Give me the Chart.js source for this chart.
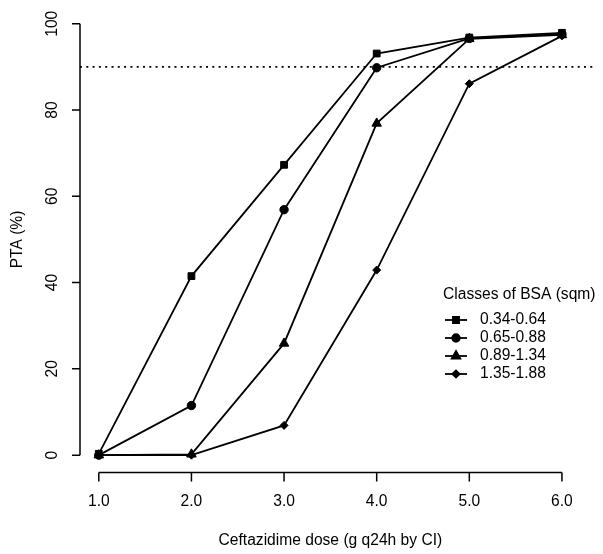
<!DOCTYPE html>
<html>
<head>
<meta charset="utf-8">
<script src="https://cdn.jsdelivr.net/npm/chart.js@4"></script>
<style>
  html, body { margin: 0; padding: 0; background: #fff; }
  canvas { display: block; }
</style>
</head>
<body>
<canvas id="pta-chart" width="603" height="554"></canvas>
<script>
// PTA by ceftazidime dose, one series per BSA class
const doses = [1.0, 2.0, 3.0, 4.0, 5.0, 6.0];
const xTicks = [1.0, 2.0, 3.0, 4.0, 5.0, 6.0];
const yTicks = [0, 20, 40, 60, 80, 100];
const target = 90;

const bsaLabels = ['0.34-0.64', '0.65-0.88', '0.89-1.34', '1.35-1.88'];
const pta034 = [0.3, 41.5, 67.3, 93.1, 96.8, 97.9];
const pta065 = [0.0, 11.5, 56.9, 89.8, 96.6, 97.6];
const pta089 = [0.0, 0.2, 25.9, 76.9, 96.5, 97.4];
const pta135 = [0.0, 0.0, 6.9, 42.9, 86.1, 97.2];

const FONT = '15.6px "Liberation Sans", Arial, sans-serif';

const markers = [
    { style: 'rect', radius: 4.8 },
    { style: 'circle', radius: 4.2 },
    { style: 'triangle', radius: 5.5 },
    { style: 'rectRot', radius: 4 }
];

function pts(values) {
    return doses.map((d, i) => ({ x: d, y: values[i] }));
}

const seriesData = [pta034, pta065, pta089, pta135];

const datasets = seriesData.map((vals, i) => ({
    label: bsaLabels[i],
    data: pts(vals),
    borderColor: '#000',
    backgroundColor: '#000',
    borderWidth: 1.8,
    pointStyle: markers[i].style,
    pointRadius: markers[i].radius,
    pointBorderWidth: 1,
    pointBackgroundColor: '#000',
    pointBorderColor: '#000',
    tension: 0
}));

// dotted target line, spans the whole plot region
datasets.push({
    label: 'target',
    data: [{ x: 0.797, y: target }, { x: 6.373, y: target }],
    borderColor: '#000',
    borderWidth: 1.7,
    borderDash: [2, 4.3],
    pointRadius: 0
});

// R-style axes, titles and legend
const baseAxes = {
    id: 'baseAxes',
    afterDraw(chart) {
        const ctx = chart.ctx;
        const xs = chart.scales.x;
        const ys = chart.scales.y;
        const axisX = chart.chartArea.left;
        const axisY = chart.chartArea.bottom;
        ctx.save();
        ctx.strokeStyle = '#000';
        ctx.fillStyle = '#000';
        ctx.lineWidth = 1.5;
        ctx.font = FONT;

        // y axis
        ctx.beginPath();
        ctx.moveTo(axisX, ys.getPixelForValue(yTicks[0]));
        ctx.lineTo(axisX, ys.getPixelForValue(yTicks[yTicks.length - 1]));
        yTicks.forEach(t => {
            const py = ys.getPixelForValue(t);
            ctx.moveTo(axisX, py);
            ctx.lineTo(axisX - 8, py);
        });
        ctx.stroke();
        ctx.textAlign = 'center';
        ctx.textBaseline = 'middle';
        yTicks.forEach(t => {
            ctx.save();
            ctx.translate(53, ys.getPixelForValue(t));
            ctx.rotate(-Math.PI / 2);
            ctx.fillText(String(t), 0, 0);
            ctx.restore();
        });

        // x axis
        ctx.beginPath();
        ctx.moveTo(xs.getPixelForValue(xTicks[0]), axisY);
        ctx.lineTo(xs.getPixelForValue(xTicks[xTicks.length - 1]), axisY);
        xTicks.forEach(t => {
            const px = xs.getPixelForValue(t);
            ctx.moveTo(px, axisY);
            ctx.lineTo(px, axisY + 9);
        });
        ctx.stroke();
        xTicks.forEach(t => {
            ctx.fillText(t.toFixed(1), xs.getPixelForValue(t), 502);
        });

        // titles
        ctx.fillText('Ceftazidime dose (g q24h by CI)', (xs.getPixelForValue(1) + xs.getPixelForValue(6)) / 2, 541);
        ctx.save();
        ctx.translate(18, (chart.chartArea.top + chart.chartArea.bottom) / 2);
        ctx.rotate(-Math.PI / 2);
        ctx.fillText('PTA (%)', 0, 0);
        ctx.restore();

        // legend
        ctx.textAlign = 'left';
        ctx.fillText('Classes of BSA (sqm)', 443, 295);
        bsaLabels.forEach((lab, i) => {
            const ly = 320 + i * 18;
            ctx.beginPath();
            ctx.lineWidth = 1.8;
            ctx.moveTo(445, ly);
            ctx.lineTo(467, ly);
            ctx.stroke();
            Chart.helpers.drawPoint(ctx, {
                pointStyle: markers[i].style,
                radius: markers[i].radius * 0.9,
                rotation: 0,
                borderWidth: 1
            }, 456, ly);
            ctx.fill();
            ctx.fillText(lab, 480, ly);
        });
        ctx.restore();
    }
};

const chart = new Chart(document.getElementById('pta-chart'), {
    type: 'line',
    data: { datasets: datasets },
    options: {
        responsive: false,
        animation: false,
        layout: { padding: { left: 80, right: 0, top: 2.6, bottom: 81.6 } },
        plugins: { legend: { display: false }, tooltip: { enabled: false } },
        scales: {
            x: { type: 'linear', min: 0.797, max: 6.373, display: false },
            y: { type: 'linear', min: -4, max: 104, display: false }
        }
    },
    plugins: [baseAxes]
});
</script>
</body>
</html>
